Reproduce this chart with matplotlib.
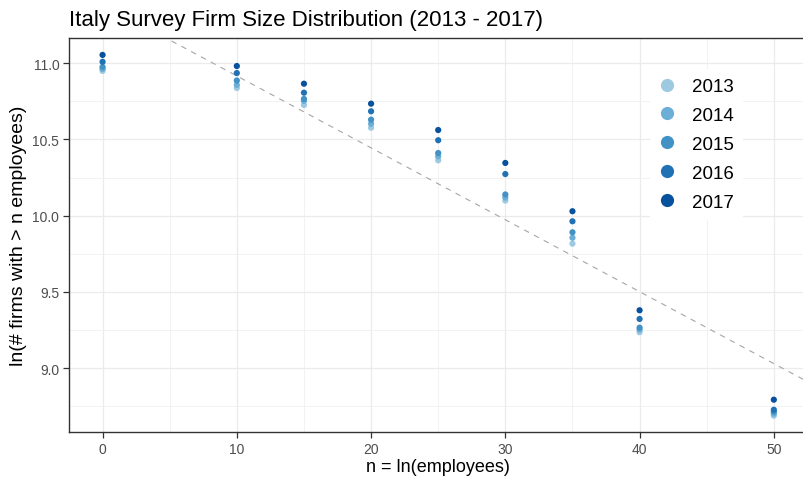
"""
plot.py - firm size distribution for the Italy survey, one series per year.

Each point is ln(number of firms with more than n employees) at a cutoff n,
with a dashed reference line for the fitted log-linear tail.
"""

import matplotlib

matplotlib.use("Agg")
import matplotlib.pyplot as plt
from matplotlib.lines import Line2D
from matplotlib.ticker import MultipleLocator

# cutoffs n and ln(# firms with > n employees) per survey year
cutoffs = [0, 10, 15, 20, 25, 30, 35, 40, 50]
years = ["2013", "2014", "2015", "2016", "2017"]
log_firms_2013 = [10.950, 10.838, 10.726, 10.577, 10.363, 10.099, 9.816, 9.235, 8.687]
log_firms_2014 = [10.963, 10.858, 10.753, 10.603, 10.389, 10.119, 9.855, 9.252, 8.700]
log_firms_2015 = [10.976, 10.887, 10.766, 10.630, 10.411, 10.139, 9.891, 9.265, 8.713]
log_firms_2016 = [11.010, 10.936, 10.807, 10.685, 10.495, 10.273, 9.963, 9.322, 8.726]
log_firms_2017 = [11.055, 10.982, 10.866, 10.735, 10.562, 10.346, 10.029, 9.379, 8.792]

# reference line: intercept + slope * n
line_intercept = 11.389
line_slope = -0.0472

# brewer "Blues", light to dark
year_colors = ["#9ecae1", "#6baed6", "#4292c6", "#2171b5", "#08519c"]


def main() -> None:
    plt.rcParams["font.family"] = ["Liberation Sans", "DejaVu Sans"]

    fig = plt.figure(figsize=(8.04, 4.81), dpi=100)
    # panel runs slightly past the right edge of the canvas
    ax = fig.add_axes([69 / 804, 48 / 481, 738.4 / 804, 394 / 481])

    series = [log_firms_2013, log_firms_2014, log_firms_2015,
              log_firms_2016, log_firms_2017]

    # 1. points, earliest year drawn first
    for i, (year, vals, col) in enumerate(zip(years, series, year_colors)):
        ax.scatter(cutoffs, vals, s=20, color=col, edgecolor="none",
                   zorder=3 + i, label=year)

    # 2. dashed reference line across the whole panel
    xlo, xhi = -2.5, 52.5
    ax.plot([xlo, xhi],
            [line_intercept + line_slope * xlo, line_intercept + line_slope * xhi],
            color="#a6a6a6", linewidth=0.8, linestyle=(0, (5, 5)), zorder=2)

    # 3. axes, grid, theme_bw-ish look
    ax.set_xlim(xlo, xhi)
    ax.set_ylim(8.58, 11.166)
    ax.xaxis.set_major_locator(MultipleLocator(10))
    ax.xaxis.set_minor_locator(MultipleLocator(5))
    ax.yaxis.set_major_locator(MultipleLocator(0.5))
    ax.yaxis.set_minor_locator(MultipleLocator(0.25))
    ax.grid(which="major", color="#ebebeb", linewidth=0.9, zorder=0)
    ax.grid(which="minor", color="#f0f0f0", linewidth=0.6, zorder=0)
    ax.set_axisbelow(True)
    ax.yaxis.set_major_formatter(plt.FuncFormatter(lambda v, _: f"{v:.1f}"))

    for side in ("left", "bottom", "top", "right"):
        ax.spines[side].set_color("#333333")
        ax.spines[side].set_linewidth(1.0)
    ax.tick_params(which="major", length=4, width=0.9, color="#333333",
                   labelsize=10, labelcolor="#4d4d4d", pad=3)
    ax.tick_params(which="minor", length=0)

    ax.set_xlabel("n = ln(employees)", fontsize=13, labelpad=2)
    ax.set_ylabel("ln(# firms with > n employees)", fontsize=14, labelpad=4)
    ax.set_title("Italy Survey Firm Size Distribution (2013 - 2017)",
                 fontsize=16, loc="left", pad=9)

    # 4. legend inside the panel on a white box
    handles = [Line2D([], [], marker="o", linestyle="none", markersize=9.5,
                      markerfacecolor=c, markeredgecolor="none") for c in year_colors]
    leg = ax.legend(handles, years, loc="center", bbox_to_anchor=(0.85, 0.73),
                    fontsize=13.5, frameon=True, facecolor="white",
                    edgecolor="none", framealpha=1, fancybox=False,
                    handlelength=0.8, handletextpad=0.9, labelspacing=0.63,
                    borderpad=0.5)
    leg.set_zorder(10)

    fig.savefig("out.png", dpi=100)
    plt.close(fig)


if __name__ == "__main__":
    main()
